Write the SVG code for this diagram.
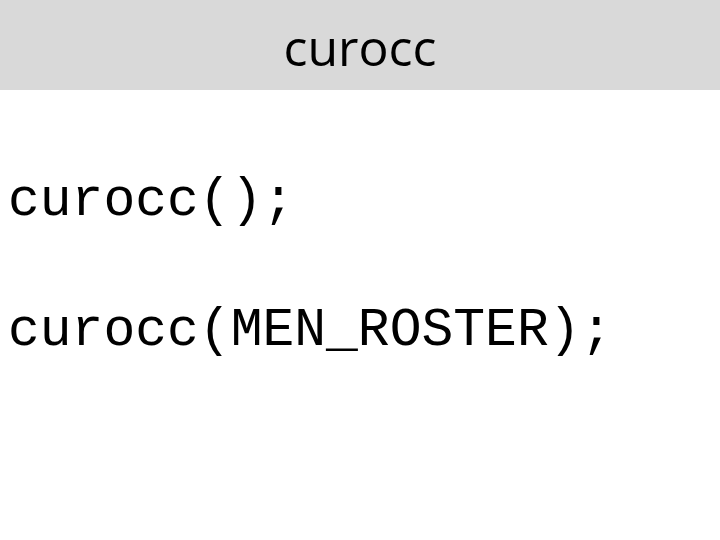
<svg xmlns="http://www.w3.org/2000/svg" width="720" height="540" viewBox="0 0 720 540">
<style>.c{font-family:"Liberation Mono",monospace;font-size:53px;fill:#000}</style>
<rect width="720" height="540" fill="#fff"/>
<rect width="720" height="90" fill="#d9d9d9"/>
<text x="360" y="66" text-anchor="middle" font-family="Open Sans, Liberation Sans, sans-serif" font-size="50" fill="#000">curocc</text>
<text class="c" x="8" y="215">curocc();</text>
<text class="c" x="8" y="345">curocc(MEN_ROSTER);</text>
</svg>
